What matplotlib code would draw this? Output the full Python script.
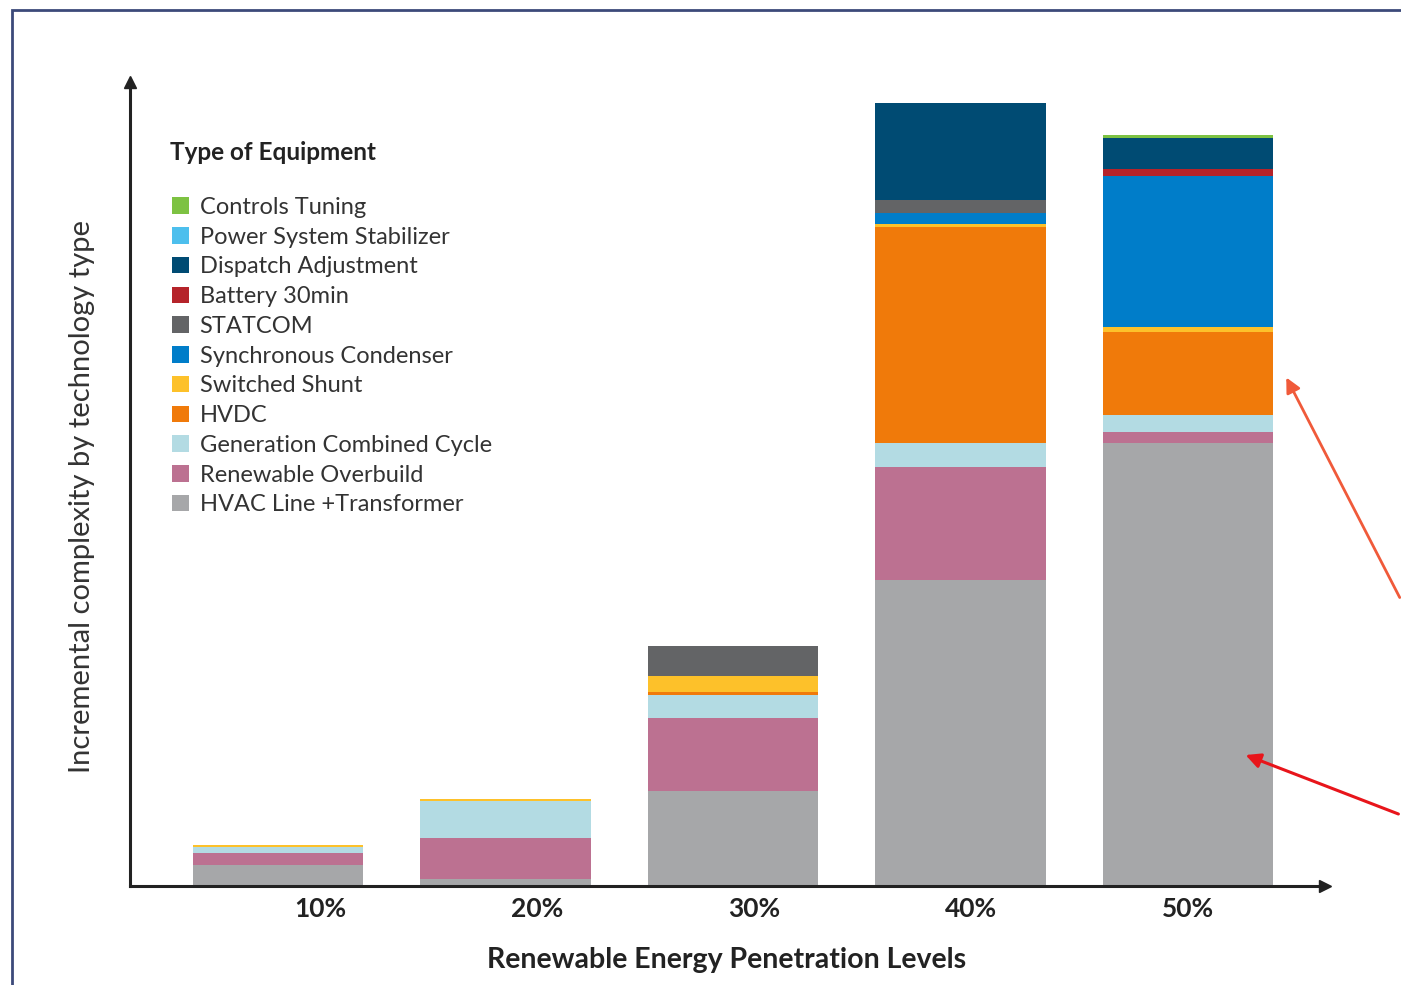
import numpy as np
import matplotlib
matplotlib.use("Agg")
import matplotlib.pyplot as plt
from matplotlib.patches import Rectangle, FancyArrowPatch

plt.rcParams['font.family'] = ['Lato', 'DejaVu Sans']

# penetration levels on the x axis
levels = ['10%', '20%', '30%', '40%', '50%']

# stacked segments, bottom to top (relative complexity units)
hvac_line = [2.1, 0.7, 9.5, 30.6, 44.3]
renewable_overbuild = [1.2, 4.1, 7.3, 11.3, 1.1]
gen_combined_cycle = [0.6, 3.7, 2.3, 2.4, 1.7]
hvdc = [0.0, 0.0, 0.3, 21.6, 8.3]
switched_shunt = [0.2, 0.2, 1.6, 0.3, 0.5]
sync_condenser = [0.0, 0.0, 0.0, 1.1, 15.1]
statcom = [0.0, 0.0, 3.0, 1.3, 0.0]
battery_30min = [0.0, 0.0, 0.0, 0.0, 0.7]
dispatch_adj = [0.0, 0.0, 0.0, 9.7, 3.1]
pss = [0.0, 0.0, 0.0, 0.0, 0.0]
controls_tuning = [0.0, 0.0, 0.0, 0.0, 0.3]

series = [
    ('HVAC Line +Transformer', hvac_line, '#a6a7a9'),
    ('Renewable Overbuild', renewable_overbuild, '#bc7191'),
    ('Generation Combined Cycle', gen_combined_cycle, '#b3dbe3'),
    ('HVDC', hvdc, '#f07a0a'),
    ('Switched Shunt', switched_shunt, '#fdc12a'),
    ('Synchronous Condenser', sync_condenser, '#007dc9'),
    ('STATCOM', statcom, '#636466'),
    ('Battery 30min', battery_30min, '#b5232a'),
    ('Dispatch Adjustment', dispatch_adj, '#004b73'),
    ('Power System Stabilizer', pss, '#4dbfed'),
    ('Controls Tuning', controls_tuning, '#7dc242'),
]

fig = plt.figure(figsize=(14.01, 9.85), dpi=100)
ax = fig.add_axes([0.0928, 0.1005, 0.853, 0.816])

x = np.arange(len(levels))
bottom = np.zeros(len(levels))
handles = []
for name, vals, col in series:
    b = ax.bar(x, vals, 0.75, bottom=bottom, color=col, label=name, linewidth=0)
    bottom += np.array(vals)
    handles.append(b)

ax.set_xlim(-0.651, 4.602)
ax.set_ylim(0, 80.4)

# axes with arrow heads
for s in ['top', 'right']:
    ax.spines[s].set_visible(False)
for s in ['left', 'bottom']:
    ax.spines[s].set_color('#222222')
    ax.spines[s].set_linewidth(2.2)
ax.plot(1, 0, '>', color='#222222', ms=8, transform=ax.transAxes, clip_on=False)
ax.plot(0, 1, '^', color='#222222', ms=8, transform=ax.transAxes, clip_on=False)

# tick labels sit on their own, slightly tighter spacing than the bars
ax.set_xticks(x * 0.954 + 0.185)
ax.set_xticklabels(levels, fontsize=19, fontweight='bold', color='#222222')
ax.tick_params(axis='x', length=0, pad=8)
ax.set_yticks([])

ax.set_xlabel('Renewable Energy Penetration Levels', fontsize=20.5,
              fontweight='bold', color='#222222')
ax.xaxis.set_label_coords(0.4996, -0.076)
ax.set_ylabel('Incremental complexity by technology type', fontsize=21,
              color='#333333')
ax.yaxis.set_label_coords(-0.029, 0.484)

# legend, top entry first
fig.text(170 / 1401, 1 - 152 / 985, 'Type of Equipment', fontsize=17.5,
         fontweight='bold', color='#222222', va='center', ha='left')
leg = fig.legend(handles[::-1], [s[0] for s in series[::-1]],
                 loc='upper left', bbox_to_anchor=(172 / 1401, 1 - 197 / 985),
                 frameon=False, fontsize=17, labelcolor='#333333',
                 handlelength=0.7, handleheight=0.7, handletextpad=0.47,
                 labelspacing=0.37, borderpad=0, borderaxespad=0)

# callout arrows on the right
fig.patches.append(FancyArrowPatch((1401 / 1401, 1 - 600 / 985),
                                   (1285 / 1401, 1 - 375 / 985),
                                   transform=fig.transFigure, arrowstyle='-|>',
                                   mutation_scale=22, color='#f05a3a', lw=2))
fig.patches.append(FancyArrowPatch((1401 / 1401, 1 - 815 / 985),
                                   (1243 / 1401, 1 - 754 / 985),
                                   transform=fig.transFigure, arrowstyle='-|>',
                                   mutation_scale=22, color='#e8151b', lw=2.2))

# slide frame
fig.patches.append(Rectangle((12 / 1401, -0.01), 1.1, 1 - 10 / 985 + 0.01,
                             transform=fig.transFigure, fill=False,
                             edgecolor='#3c4a7a', lw=2))

fig.savefig('out.png', dpi=100)
